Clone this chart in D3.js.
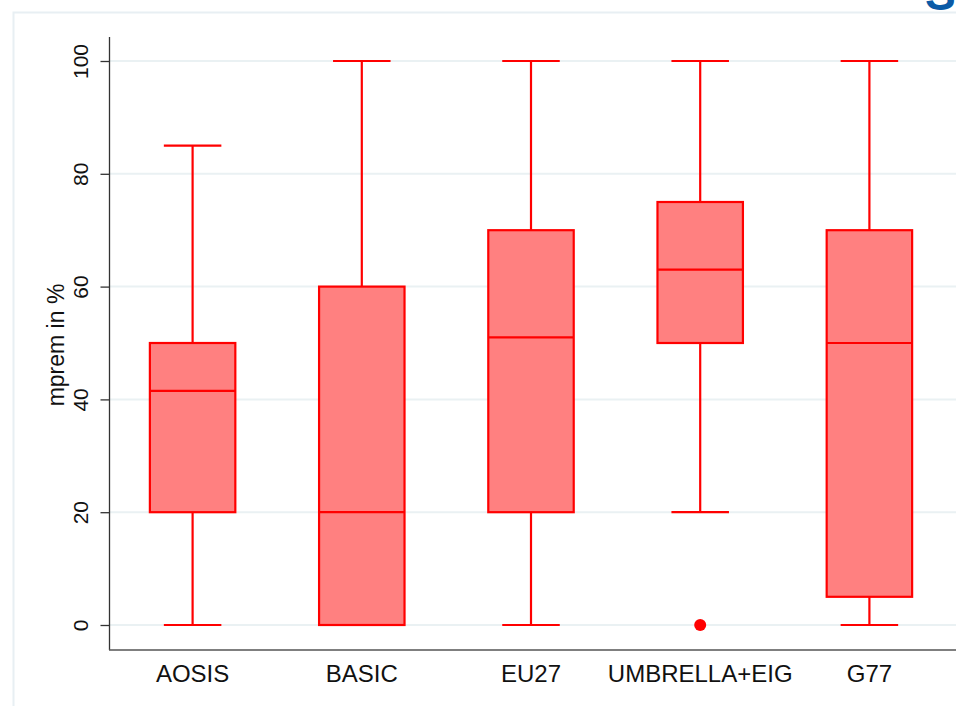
<!DOCTYPE html>
<html><head><meta charset="utf-8">
<script src="https://cdn.jsdelivr.net/npm/d3@7"></script>
<style>html,body{margin:0;padding:0;background:#fff;}svg{display:block;}</style>
</head><body>
<script>
const categories = ["AOSIS","BASIC","EU27","UMBRELLA+EIG","G77"];
const whiskerLow = [0, 0, 0, 20, 0];
const q1 = [20, 0, 20, 50, 5];
const median = [41.5, 20, 51, 63, 50];
const q3 = [50, 60, 70, 75, 70];
const whiskerHigh = [85, 100, 100, 100, 100];
const outliers = [{cat:"UMBRELLA+EIG", value:0}];
const yTicks = [0, 20, 40, 60, 80, 100];

const W = 956, H = 706;
const FONT = "Liberation Sans, Arial, Helvetica, sans-serif";
const svg = d3.select("body").append("svg").attr("width", W).attr("height", H);

// outer frame
svg.append("path").attr("d", `M13.5,706 V12.5 H956`).attr("fill","none").attr("stroke","#e8eff3").attr("stroke-width",2);
// cropped logo glyph
svg.append("text").attr("x", 925).attr("y", 10).attr("font-family",FONT)
  .attr("font-weight","bold").attr("font-size",46).attr("fill","#0b5aa6").text("S");

const x = d3.scaleBand().domain(categories).range([108, 954]);
const y = d3.scaleLinear().domain([0, 100]).range([625, 61]);

// gridlines
svg.append("g").selectAll("line").data(yTicks).join("line")
  .attr("x1", 110).attr("x2", 956).attr("y1", d => y(d)).attr("y2", d => y(d))
  .attr("stroke", "#eaf1f3").attr("stroke-width", 2);

// axes
const yAxis = d3.axisLeft(y).tickValues(yTicks).tickSize(9).tickPadding(0).tickFormat(d3.format("d"));
const gy = svg.append("g").attr("transform","translate(109.5,0)").call(yAxis);
gy.select(".domain").attr("d","M0,37V650").attr("stroke","#333").attr("stroke-width",1.3);
gy.selectAll(".tick line").attr("stroke","#333").attr("stroke-width",1.3);
gy.selectAll(".tick text").attr("font-family",FONT).attr("font-size",21)
  .attr("fill","#111").attr("text-anchor","middle").attr("transform","translate(-28.5,0) rotate(-90)").attr("dy","0.35em").attr("x",0);

const xAxis = d3.axisBottom(x).tickSize(0);
const gx = svg.append("g").attr("transform","translate(0,650)").call(xAxis);
gx.select(".domain").attr("d","M109,0H956").attr("stroke","#555").attr("stroke-width",1.6);
gx.selectAll(".tick text").attr("font-family",FONT).attr("font-size",24).attr("fill","#111")
  .attr("y", 32).attr("dy", "0");

svg.append("text").attr("transform","translate(64,345) rotate(-90)").attr("text-anchor","middle")
  .attr("font-family",FONT).attr("font-size",23).attr("fill","#111").text("mprem in %");

// boxes
const bw = x.bandwidth() * 0.505, cw = x.bandwidth() * 0.34;
const g = svg.append("g");
categories.forEach((c, i) => {
  const cx = x(c) + x.bandwidth()/2;
  const gg = g.append("g").attr("stroke","#ff0000").attr("stroke-width",2.2);
  gg.append("line").attr("x1",cx).attr("x2",cx).attr("y1",y(whiskerLow[i])).attr("y2",y(q1[i]));
  gg.append("line").attr("x1",cx).attr("x2",cx).attr("y1",y(q3[i])).attr("y2",y(whiskerHigh[i]));
  gg.append("line").attr("x1",cx-cw/2).attr("x2",cx+cw/2).attr("y1",y(whiskerLow[i])).attr("y2",y(whiskerLow[i]));
  gg.append("line").attr("x1",cx-cw/2).attr("x2",cx+cw/2).attr("y1",y(whiskerHigh[i])).attr("y2",y(whiskerHigh[i]));
  gg.append("rect").attr("x",cx-bw/2).attr("width",bw).attr("y",y(q3[i])).attr("height",y(q1[i])-y(q3[i]))
    .attr("fill","#ff8080");
  gg.append("line").attr("x1",cx-bw/2).attr("x2",cx+bw/2).attr("y1",y(median[i])).attr("y2",y(median[i]));
});
g.selectAll("circle").data(outliers).join("circle")
  .attr("cx", d => x(d.cat) + x.bandwidth()/2).attr("cy", d => y(d.value)).attr("r", 6).attr("fill","#ff0000");
</script>
</body></html>
